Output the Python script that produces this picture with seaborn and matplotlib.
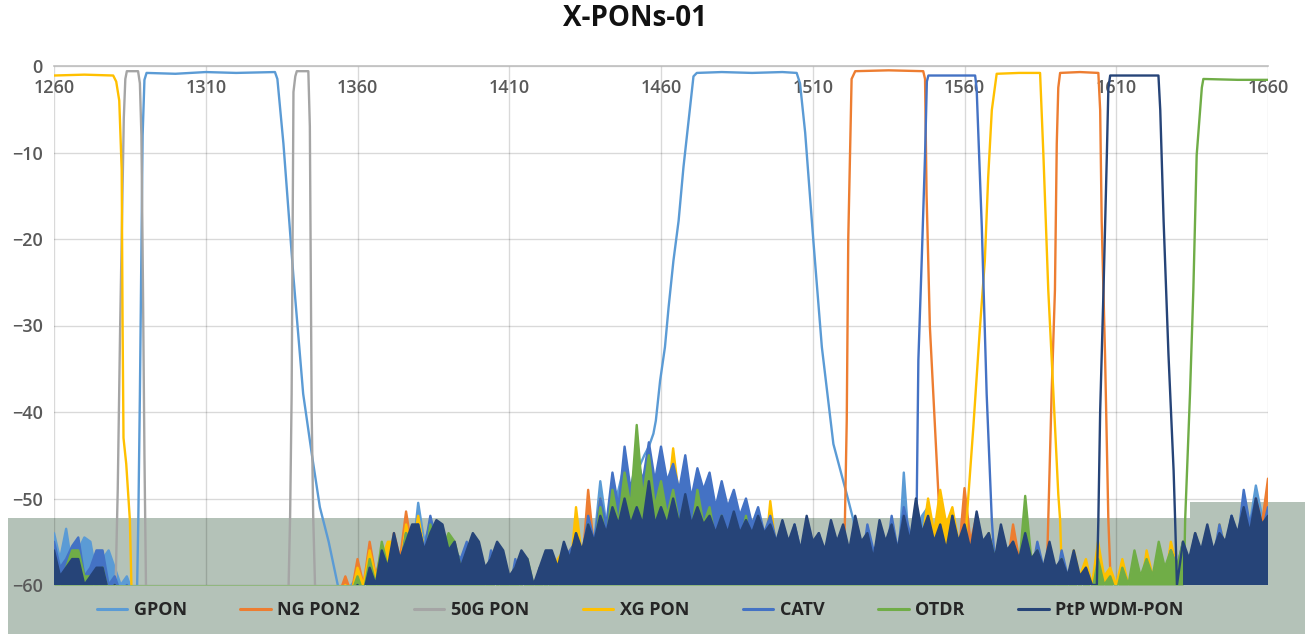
import sys
import matplotlib
matplotlib.use("Agg")
import numpy as np
import pandas as pd
import matplotlib.pyplot as plt
from matplotlib.patches import Rectangle
from matplotlib.lines import Line2D
import seaborn as sns

# ---------------- data ----------------
SERIES = ["GPON", "NG PON2", "50G PON", "XG PON", "CATV", "OTDR", "PtP WDM-PON"]
COLORS = ["#5B9BD5", "#ED7D31", "#A5A5A5", "#FFC000", "#4472C4", "#70AD47", "#264478"]
X_TICKS = [1260, 1310, 1360, 1410, 1460, 1510, 1560, 1610, 1660]
Y_TICKS = [0, -10, -20, -30, -40, -50, -60]
TITLE = "X-PONs-01"

# wavelength grid for the noise floor readings (nm), 1260 ... 1660
NOISE_WL = list(range(1260, 1661, 2))

# passbands (wavelength nm, attenuation dB)
GPON_B1_WL = [1287.4, 1287.8, 1288.3, 1288.7, 1289.2, 1289.8, 1290.5, 1300, 1310, 1320, 1332.8, 1333.6, 1335.6, 1338.9, 1342.1, 1345.0, 1347.6, 1350.5, 1353.5]
GPON_B1_DB = [-60, -52, -38, -25, -8, -1.6, -0.8, -0.9, -0.7, -0.8, -0.7, -1.5, -9, -24.4, -37.9, -45, -51, -55, -60]
GPON_B2_WL = [1452, 1454.5, 1456, 1457.5, 1458.3, 1459.7, 1461.3, 1462.5, 1464.1, 1465.8, 1467.4, 1469, 1470.7, 1471.8, 1480, 1490, 1500, 1504.7, 1505.8, 1507.5, 1510.2, 1513, 1516.8, 1521.2, 1523.4, 1525.5]
GPON_B2_DB = [-47, -45, -44, -42.5, -41, -36.4, -32.5, -27.9, -22.5, -17.9, -11.7, -6.6, -1.2, -0.8, -0.7, -0.8, -0.7, -0.8, -2, -7.7, -20.2, -32.5, -43.7, -49.5, -52.5, -60]

NGPON2_B1_WL = [1520.0, 1520.6, 1521.2, 1521.7, 1522.3, 1522.8, 1524, 1535, 1546.4, 1547.0, 1547.5, 1548.6, 1550.3, 1551.4, 1552.8]
NGPON2_B1_DB = [-60, -52.5, -41, -20, -10, -1.5, -0.6, -0.5, -0.6, -1.5, -14.8, -30.2, -41.8, -49.5, -60]
NGPON2_B2_WL = [1587.0, 1587.6, 1588.7, 1589.8, 1590.4, 1590.9, 1591.5, 1598, 1604.1, 1604.7, 1605.2, 1606.3, 1607.4, 1608.2]
NGPON2_B2_DB = [-60, -52.5, -37.9, -25.9, -9, -2.5, -0.8, -0.7, -0.8, -5.1, -17.9, -33.3, -52.5, -60]

G50_B1_WL = [1280.3, 1281.0, 1281.8, 1282.4, 1283.0, 1283.5, 1284.0, 1286, 1287.7, 1288.3, 1288.8, 1289.3, 1289.8, 1290.3]
G50_B1_DB = [-60, -49, -30, -18, -6, -1.5, -0.6, -0.6, -0.6, -2, -8, -25, -45, -60]
G50_B2_WL = [1337.3, 1337.8, 1338.3, 1338.9, 1339.5, 1340.0, 1342, 1343.8, 1344.3, 1344.9, 1345.4, 1346.0]
G50_B2_DB = [-60, -52, -38, -3, -1.2, -0.6, -0.6, -0.6, -7, -40, -52, -60]

XG_B1_WL = [1260, 1270, 1279.5, 1280.5, 1281.5, 1282.3, 1282.6, 1282.9, 1283.8, 1285.0, 1285.5]
XG_B1_DB = [-1.1, -1.0, -1.1, -1.8, -4, -12, -30, -43, -46, -52.5, -60]
XG_B2_WL = [1560.2, 1560.7, 1562.9, 1565.1, 1566.7, 1567.8, 1569.0, 1570.6, 1578, 1584.9, 1586.0, 1587.6, 1589.3, 1590.9, 1591.5, 1592.2]
XG_B2_DB = [-60, -52.5, -41.8, -30.2, -22.5, -12.9, -5.1, -0.9, -0.8, -0.8, -10.3, -25.9, -37.9, -49.5, -52.5, -60]

CATV_B1_WL = [1543.8, 1544.2, 1544.8, 1545.9, 1547.0, 1547.6, 1548.1, 1556, 1563.5, 1564.0, 1565.7, 1567.3, 1569.0, 1570.5]
CATV_B1_DB = [-60, -52.5, -34, -22.5, -10.3, -1.8, -1.1, -1.1, -1.1, -2.6, -18.6, -37.9, -52.5, -60]

OTDR_B1_WL = [1632.3, 1632.7, 1634.3, 1635.4, 1636.5, 1638.2, 1638.7, 1650, 1660]
OTDR_B1_DB = [-60, -52.5, -37.9, -25.9, -10.3, -2.5, -1.5, -1.6, -1.6]

PTP_B1_WL = [1603.6, 1604.1, 1604.7, 1605.8, 1606.9, 1607.4, 1608.0, 1616, 1623.9, 1624.5, 1625.6, 1627.2, 1628.9, 1629.4, 1630.0]
PTP_B1_DB = [-60, -52.5, -39.9, -25.9, -10.3, -2.6, -1.1, -1.1, -1.1, -5.1, -17.9, -33.3, -46.8, -52.5, -60]

# noise floor readings on NOISE_WL, 20 values (40 nm) per row; values inside a passband are not used
GPON_NOISE = [
    -54, -57, -53.5, -58, -56, -54.5, -55, -59, -57, -56, -58, -60, -59, -61, -61, -61, -61, -61, -61, -61,
    -61, -61, -61, -61, -61, -61, -61, -61, -61, -61, -61, -61, -61, -61, -61, -61, -61, -61, -61, -61,
    -61, -61, -61, -61, -61, -61, -61, -61, -61, -60, -59, -61, -58, -60, -57, -59, -56, -58, -54, -57,
    -50.5, -55, -53, -58, -56, -59, -57, -60, -58, -61, -57, -60, -59, -61, -58, -61, -60, -61, -59, -61,
    -60, -61, -58, -61, -59, -57, -56, -58, -53, -55, -48, -53, -51, -49, -46, -50, -61, -61, -61, -61,
    -61, -61, -61, -61, -61, -61, -61, -61, -61, -61, -61, -61, -61, -61, -61, -61, -61, -61, -61, -61,
    -61, -61, -61, -61, -61, -61, -61, -61, -61, -61, -61, -61, -61, -61, -57, -60, -58, -61, -55, -59,
    -47, -57, -54, -52, -51, -55, -51, -56, -53, -57, -52, -58, -55, -59, -57, -60, -58, -61, -59, -61,
    -58, -61, -60, -61, -59, -61, -60, -61, -59, -61, -61, -61, -60, -61, -61, -61, -60, -61, -61, -61,
    -60, -61, -59, -61, -58, -60, -57, -59, -56, -58, -55, -57, -54, -56, -52, -55, -50, -53, -48.5, -52,
    -51]
NGPON2_NOISE = [
    -59, -61, -60, -61, -58, -61, -60, -61, -61, -61, -61, -61, -61, -61, -61, -61, -61, -61, -61, -61,
    -61, -61, -61, -61, -61, -61, -61, -61, -61, -61, -61, -61, -61, -61, -61, -61, -61, -61, -61, -61,
    -61, -61, -61, -61, -61, -61, -61, -61, -59, -61, -57, -60, -55, -59, -56, -58, -54, -57, -51.5, -56,
    -55, -58, -54, -57, -57, -55, -55, -59, -57, -60, -56, -59, -58, -61, -57, -60, -59, -61, -58, -61,
    -59, -61, -57, -60, -58, -56, -55, -58, -49, -56, -53, -57, -52, -55, -50, -54, -48, -53, -47, -52,
    -44.7, -51, -48, -52, -47, -53, -49, -54, -51, -55, -50, -56, -52, -55, -53, -57, -51.8, -56, -54, -58,
    -55, -57, -54, -58, -56, -59, -55, -58, -56, -60, -61, -61, -61, -61, -61, -61, -61, -61, -61, -61,
    -61, -61, -61, -61, -61, -61, -61, -61, -53, -57, -48.8, -55, -52, -56, -54, -57, -55, -58, -53, -57,
    -55, -58, -56, -59, -61, -61, -61, -61, -61, -61, -61, -61, -61, -61, -61, -61, -58, -61, -59, -61,
    -57, -60, -58, -61, -56, -59, -55, -58, -56, -59, -54, -57, -55, -58, -53, -56, -52, -55, -50, -53,
    -47.7]
G50_NOISE = [
    -61, -61, -59, -61, -61, -61, -60, -61, -61, -61, -61, -61, -61, -61, -61, -61, -61, -61, -61, -61,
    -61, -61, -61, -61, -61, -61, -61, -61, -61, -61, -61, -61, -61, -61, -61, -61, -61, -61, -61, -61,
    -61, -61, -61, -61, -61, -61, -61, -61, -61, -61, -61, -61, -61, -61, -61, -61, -61, -61, -61, -61,
    -57, -61, -58, -61, -61, -61, -61, -61, -61, -61, -61, -61, -61, -61, -61, -61, -61, -61, -61, -61,
    -61, -61, -61, -61, -61, -61, -61, -61, -61, -61, -61, -61, -61, -61, -55, -61, -61, -61, -61, -61,
    -53, -61, -61, -61, -61, -61, -61, -61, -61, -61, -61, -61, -56, -61, -61, -61, -61, -61, -61, -61,
    -61, -61, -61, -61, -61, -61, -61, -61, -61, -61, -61, -61, -61, -61, -61, -61, -61, -61, -61, -61,
    -57, -61, -61, -61, -61, -61, -61, -61, -61, -61, -58, -61, -61, -61, -61, -61, -61, -61, -61, -61,
    -61, -61, -61, -61, -61, -61, -61, -61, -61, -61, -61, -61, -61, -61, -61, -61, -61, -61, -61, -61,
    -61, -61, -61, -61, -61, -61, -61, -61, -61, -61, -61, -61, -61, -61, -61, -61, -57, -61, -61, -61,
    -61]
XG_NOISE = [
    -61, -61, -61, -61, -61, -61, -61, -61, -61, -61, -61, -61, -61, -61, -61, -61, -61, -61, -61, -61,
    -61, -61, -61, -61, -61, -61, -61, -61, -61, -61, -61, -61, -61, -61, -61, -61, -61, -61, -61, -61,
    -61, -61, -61, -61, -61, -61, -61, -61, -60, -61, -58, -60, -56, -59, -57, -55, -55, -58, -53, -56,
    -52, -56, -55, -53, -54, -58, -57, -59, -56, -60, -58, -61, -57, -60, -59, -61, -58, -61, -60, -61,
    -58, -61, -59, -57, -56, -59, -51, -57, -54, -56, -50, -55, -48, -53, -47, -51, -44.5, -50, -46, -52,
    -48, -51, -44.2, -50, -47, -52, -49.2, -53, -48, -54, -51, -55, -51, -56, -53, -57, -54, -58, -50.3, -56,
    -54, -58, -55, -57, -53, -59, -56, -58, -54, -59, -55, -57, -53, -58, -56, -59, -54, -57, -55, -58,
    -53, -56, -52, -55, -50, -54, -49, -53, -51, -55, -54, -61, -61, -61, -61, -61, -61, -61, -61, -61,
    -61, -61, -61, -61, -61, -61, -61, -61, -56, -59, -57, -60, -55, -59, -58, -60, -57, -60, -58, -61,
    -56, -59, -57, -60, -55, -58, -56, -59, -54, -57, -55, -58, -53, -56, -54, -57, -52, -55, -51, -54,
    -52]
CATV_NOISE = [
    -55, -58, -57, -55.5, -54.5, -59, -58, -56, -56, -60, -59, -61, -60, -61, -61, -61, -61, -61, -61, -61,
    -61, -61, -61, -61, -61, -61, -61, -61, -61, -61, -61, -61, -61, -61, -61, -61, -61, -61, -61, -61,
    -61, -61, -61, -61, -61, -61, -61, -61, -61, -61, -60, -61, -58, -60, -57, -59, -55, -58, -54, -56,
    -53, -56, -52, -55, -55, -58, -56, -57, -55, -59, -57, -60, -56, -59, -58, -61, -57, -60, -59, -61,
    -58, -60, -57, -59, -57, -56, -55, -57, -52, -55, -50, -53, -47, -51, -44, -49, -45, -48, -43.5, -48,
    -44, -48, -46, -49, -45, -50, -46.5, -49, -47, -51, -48, -51, -49, -52, -50, -53, -51, -54, -52, -55,
    -54, -57, -53, -56, -55, -58, -54, -57, -56, -59, -54, -57, -55, -58, -53, -56, -55, -57, -52, -56,
    -51, -54, -61, -61, -61, -61, -61, -61, -61, -61, -61, -61, -61, -61, -61, -61, -54, -57, -55, -58,
    -56, -59, -55, -58, -57, -60, -56, -59, -58, -61, -59, -61, -58, -61, -60, -61, -59, -61, -60, -61,
    -58, -60, -57, -59, -56, -58, -55, -58, -54, -57, -55, -57, -53, -56, -52, -55, -49, -53, -50, -54,
    -51]
OTDR_NOISE = [
    -57, -60, -58, -56, -56, -59, -59, -61, -58, -61, -60, -61, -61, -61, -61, -61, -61, -61, -61, -61,
    -61, -61, -61, -61, -61, -61, -61, -61, -61, -61, -61, -61, -61, -61, -61, -61, -61, -61, -61, -61,
    -61, -61, -61, -61, -61, -61, -61, -61, -61, -61, -59, -61, -57, -60, -55, -58, -56, -59, -54, -57,
    -55, -58, -53, -57, -56, -54, -55, -58, -57, -59, -56, -60, -58, -61, -57, -60, -58, -61, -57, -60,
    -59, -61, -58, -60, -56, -59, -54, -57, -53, -56, -51, -55, -49, -53, -47, -51, -41.5, -50, -45, -51,
    -48, -52, -49, -53, -50, -54, -49, -53, -51, -55, -52, -56, -53, -56, -52, -57, -54, -58, -55, -58,
    -54, -57, -56, -58, -54, -57, -55, -59, -53, -57, -55, -58, -54, -57, -56, -59, -53, -57, -55, -58,
    -54, -57, -53, -56, -55, -58, -54, -57, -52, -56, -55, -58, -56, -59, -54, -57, -56, -59, -55, -58,
    -49.7, -57, -56, -59, -58, -60, -57, -60, -59, -61, -58, -61, -57, -60, -59, -61, -58, -60, -56, -59,
    -57, -59, -55, -58, -56, -58, -55, -61, -61, -61, -61, -61, -61, -61, -61, -61, -61, -61, -61, -61,
    -61]
PTP_NOISE = [
    -56, -59, -58, -57, -57, -60, -59, -58, -58, -61, -60, -61, -61, -61, -61, -61, -61, -61, -61, -61,
    -61, -61, -61, -61, -61, -61, -61, -61, -61, -61, -61, -61, -61, -61, -61, -61, -61, -61, -61, -61,
    -61, -61, -61, -61, -61, -61, -61, -61, -61, -61, -60, -61, -58, -60, -56, -58, -54, -57, -55, -53,
    -53, -56, -54, -52.5, -53, -56, -55, -58, -56, -54, -55, -58, -57, -55, -56, -59, -58, -56, -57, -60,
    -58, -56, -56, -58, -55, -57, -54, -56, -53, -55, -52, -54, -51, -53, -50, -53, -51, -53, -48, -53,
    -51, -53, -50, -53, -49.5, -53, -51, -53, -52, -54, -52, -54, -51.5, -54, -52.5, -54, -52, -54, -53, -55,
    -52.5, -55, -53, -56, -52, -55, -54, -56, -52.5, -55, -53, -56, -52, -55, -54, -57, -52.5, -55, -53, -56,
    -52, -55, -50, -54, -52, -55, -53, -56, -52, -55, -53, -56, -51.5, -55, -54, -57, -53, -56, -55, -57,
    -54, -57, -56, -58, -55, -58, -57, -59, -56, -59, -58, -60, -61, -61, -61, -61, -61, -61, -61, -61,
    -61, -61, -61, -61, -61, -61, -55, -57, -54, -56, -53, -56, -54, -55, -52, -54, -51, -54, -50, -53,
    -52]

NOISE = [GPON_NOISE, NGPON2_NOISE, G50_NOISE, XG_NOISE, CATV_NOISE, OTDR_NOISE, PTP_NOISE]
BANDS = [
    [(GPON_B1_WL, GPON_B1_DB), (GPON_B2_WL, GPON_B2_DB)],
    [(NGPON2_B1_WL, NGPON2_B1_DB), (NGPON2_B2_WL, NGPON2_B2_DB)],
    [(G50_B1_WL, G50_B1_DB), (G50_B2_WL, G50_B2_DB)],
    [(XG_B1_WL, XG_B1_DB), (XG_B2_WL, XG_B2_DB)],
    [(CATV_B1_WL, CATV_B1_DB)],
    [(OTDR_B1_WL, OTDR_B1_DB)],
    [(PTP_B1_WL, PTP_B1_DB)],
]

for n, arr in zip(SERIES, NOISE):
    if len(arr) != len(NOISE_WL):
        print("length mismatch", n, len(arr), file=sys.stderr)


def assemble(name, noise, bands):
    rows = []
    for w, d in zip(NOISE_WL, noise):
        if not any(bw[0] <= w <= bw[-1] for bw, _ in bands):
            rows.append((w, d, True))
    for bw, bd in bands:
        rows += [(w, d, False) for w, d in zip(bw, bd)]
    df = pd.DataFrame(rows, columns=["wl", "db", "noise"]).sort_values("wl", kind="stable")
    df["series"] = name
    return df.reset_index(drop=True)


# ---------------- plot ----------------
sns.set_theme(style="white")
plt.rcParams["font.family"] = ["Open Sans", "DejaVu Sans"]

fig = plt.figure(figsize=(13.13, 6.34), dpi=100)
fig.patch.set_facecolor("white")

# grey-green band at the bottom of the picture
BOX = "#B4C2B8"
fig.patches.append(Rectangle((8 / 1313, 0), 1297 / 1313, 1 - 518 / 634, transform=fig.transFigure,
                             facecolor=BOX, edgecolor="none", zorder=-5))
fig.patches.append(Rectangle((1190 / 1313, 1 - 518 / 634), 115 / 1313, 16 / 634, transform=fig.transFigure,
                             facecolor=BOX, edgecolor="none", zorder=-5))

ax = fig.add_axes([54 / 1313, 1 - 585 / 634, (1268 - 54) / 1313, (585 - 66) / 634])
ax.patch.set_alpha(0)

for k, (name, color, noise, bands) in enumerate(zip(SERIES, COLORS, NOISE, BANDS)):
    df = assemble(name, noise, bands)
    z = 2 + k
    ax.fill_between(df["wl"], df["db"], -60, where=df["noise"].values, color=color, lw=0, zorder=z)
    sns.lineplot(data=df, x="wl", y="db", ax=ax, color=color, lw=1.7, sort=False, estimator=None,
                 legend=False, zorder=z)

ax.set_xlim(1260, 1660)
ax.set_ylim(-60, 0)
ax.set_xticks(X_TICKS)
ax.set_yticks(Y_TICKS)
ax.set_xlabel("")
ax.set_ylabel("")
ax.xaxis.tick_top()
ax.tick_params(axis="x", length=0, pad=-22, labelsize=13, labelcolor="#595959")
ax.tick_params(axis="y", length=0, pad=8, labelsize=13, labelcolor="#595959")
for lab in ax.get_xticklabels() + ax.get_yticklabels():
    lab.set_fontweight("semibold")
ax.grid(True, color="black", alpha=0.15, lw=1)
ax.set_axisbelow(True)
for s in ["left", "right", "bottom"]:
    ax.spines[s].set_visible(False)
ax.spines["top"].set_color("#bfbfbf")
ax.spines["top"].set_linewidth(1.2)

fig.text(635 / 1313, 1 - 18 / 634, TITLE, ha="center", va="center", fontsize=20, fontweight="bold", color="#111111")

handles = [Line2D([0], [0], color=c, lw=2.2) for c in COLORS]
leg = fig.legend(handles, SERIES, loc="center", bbox_to_anchor=(640 / 1313, 1 - 610 / 634), ncol=7,
                 frameon=False, handlelength=1.7, handletextpad=0.35, columnspacing=2.97,
                 prop={"size": 13, "weight": "bold"})
for t in leg.get_texts():
    t.set_color("#262626")

fig.savefig("out.png", dpi=100, facecolor="white")
